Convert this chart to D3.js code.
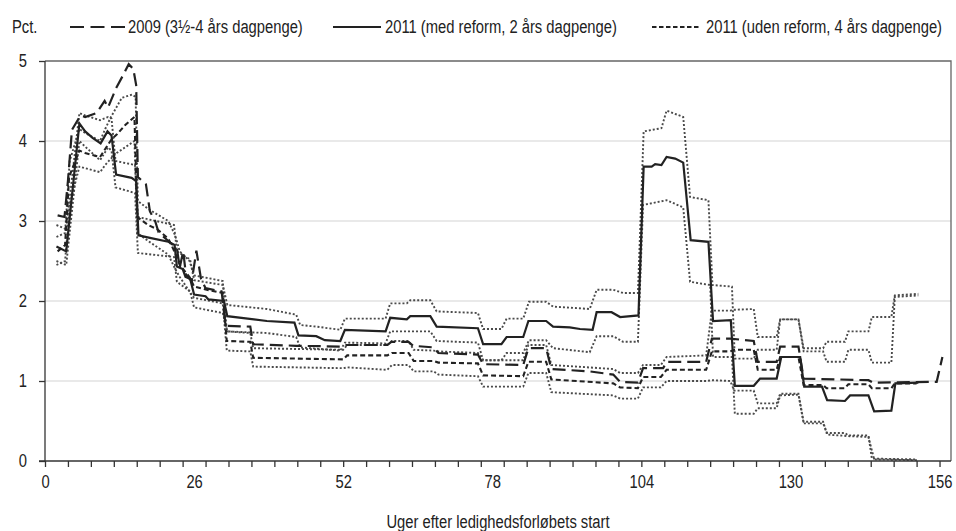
<!DOCTYPE html>
<html>
<head>
<meta charset="utf-8">
<script src="https://cdn.jsdelivr.net/npm/d3@7.9.0/dist/d3.min.js"></script>
<style>
  body { margin: 0; background: #fff; }
  svg { display: block; font-family: "Liberation Sans", Arial, sans-serif; }
</style>
</head>
<body>
<svg id="chart" width="956" height="531"></svg>
<script>
// axis labels
const xLabels = [0, 26, 52, 78, 104, 130, 156];
const yLabels = [0, 1, 2, 3, 4, 5];
const legendLabels = ['2009 (3½-4 års dagpenge)', '2011 (med reform, 2 års dagpenge)', '2011 (uden reform, 4 års dagpenge)'];

// [week, pct]
const y2009 = [[2.2,3.07],[3.4,3.05],[4.0,3.5],[4.7,4.14],[6.2,4.32],[7.0,4.3],[9.0,4.35],[10.4,4.5],[11.0,4.42],[12.4,4.66],[13.6,4.82],[14.6,4.96],[15.4,4.9],[15.9,4.7],[16.2,3.55],[17.6,3.46],[18.3,3.12],[19.2,3.0],[19.8,2.86],[21.5,2.75],[23.0,2.66],[23.5,2.42],[24.1,2.62],[24.6,2.32],[25.6,2.25],[26.4,2.63],[27.2,2.28],[28.0,2.16],[30.8,2.12],[31.5,1.69],[35.8,1.68],[36.3,1.46],[43.8,1.44],[52.0,1.43],[52.6,1.45],[59.7,1.45],[60.4,1.49],[63.4,1.49],[64.2,1.44],[67.8,1.42],[68.6,1.35],[75.5,1.33],[76.4,1.21],[83.4,1.2],[84.3,1.41],[87.4,1.41],[88.3,1.15],[95.0,1.12],[99.1,1.08],[100.3,0.99],[103.4,0.98],[104.3,1.16],[107.8,1.16],[108.4,1.24],[115.3,1.24],[116.3,1.53],[119.5,1.53],[123.6,1.5],[124.3,1.24],[127.6,1.24],[128.2,1.43],[131.4,1.43],[132.3,1.03],[143.6,1.01],[144.4,0.98],[155.5,0.99],[156.5,1.3]];

const medReform = [[2.0,2.68],[3.7,2.62],[6.0,4.22],[7.0,4.12],[8.3,4.04],[9.7,3.97],[10.9,4.12],[11.6,4.07],[12.4,3.58],[15.1,3.54],[15.9,3.5],[16.3,2.82],[18.3,2.79],[21.5,2.74],[22.6,2.7],[23.0,2.43],[24.0,2.4],[24.5,2.3],[25.3,2.28],[26.0,2.08],[28.0,2.06],[28.5,2.02],[31.2,2.0],[31.8,1.81],[38.7,1.75],[43.5,1.73],[44.2,1.57],[47.3,1.56],[48.8,1.51],[51.5,1.5],[52.3,1.64],[59.4,1.62],[60.2,1.79],[63.1,1.77],[63.7,1.81],[67.2,1.81],[68.3,1.68],[75.5,1.66],[76.4,1.46],[79.6,1.46],[80.5,1.55],[83.4,1.55],[84.3,1.75],[87.4,1.75],[88.6,1.68],[91.5,1.67],[93.3,1.65],[95.5,1.64],[96.2,1.86],[98.8,1.86],[100.3,1.8],[103.5,1.82],[104.4,3.68],[105.8,3.68],[106.4,3.71],[107.5,3.7],[108.4,3.8],[109.9,3.78],[111.3,3.73],[112.6,2.76],[115.7,2.74],[116.5,1.75],[119.6,1.76],[120.3,0.94],[123.6,0.94],[124.7,1.03],[127.6,1.03],[128.4,1.3],[131.7,1.3],[132.4,0.93],[135.5,0.93],[136.4,0.76],[139.5,0.75],[140.4,0.82],[143.6,0.82],[144.6,0.62],[147.6,0.63],[148.3,0.97],[152.3,0.98]];

const udenReform = [[2.2,2.62],[3.5,2.7],[4.2,3.55],[5.0,3.7],[6.0,3.88],[7.0,3.85],[9.6,3.8],[10.5,3.9],[11.6,4.02],[12.5,4.08],[14.0,4.2],[15.6,4.3],[16.1,3.05],[18.0,2.95],[19.5,2.9],[21.5,2.78],[22.7,2.6],[23.5,2.45],[25.2,2.3],[26.0,2.18],[28.2,2.14],[31.0,2.1],[31.7,1.5],[35.8,1.49],[36.3,1.29],[52.0,1.27],[52.7,1.32],[59.7,1.32],[60.5,1.35],[63.4,1.35],[64.3,1.25],[67.8,1.25],[68.6,1.23],[75.5,1.22],[76.4,1.07],[83.4,1.06],[84.3,1.24],[87.4,1.24],[88.3,1.02],[99.1,0.97],[100.3,0.92],[103.4,0.91],[104.3,1.05],[107.4,1.05],[108.4,1.14],[115.3,1.14],[116.3,1.37],[119.5,1.37],[120.2,1.39],[123.6,1.39],[124.3,1.14],[127.6,1.14],[128.2,1.3],[131.4,1.3],[132.3,0.95],[135.7,0.95],[136.3,0.91],[139.5,0.91],[140.1,0.96],[143.6,0.96],[144.2,0.91],[147.6,0.91],[148.2,0.97],[152.0,0.97]];

// confidence bands (dotted)
const medHigh = [[2.0,2.95],[3.7,2.9],[6.0,4.35],[7.0,4.32],[9.6,4.26],[11.0,4.3],[11.6,4.28],[12.3,3.75],[15.7,3.7],[16.2,3.05],[22.5,2.95],[23.0,2.62],[25.3,2.52],[26.0,2.26],[31.0,2.2],[31.8,1.95],[38.7,1.9],[43.8,1.83],[44.5,1.7],[47.3,1.68],[51.5,1.64],[52.3,1.78],[59.4,1.78],[60.2,1.97],[63.1,1.97],[63.7,2.01],[67.2,2.01],[68.3,1.87],[75.5,1.85],[76.4,1.65],[79.6,1.65],[80.5,1.78],[83.4,1.78],[84.4,1.99],[87.4,1.99],[88.6,1.93],[95.0,1.9],[96.2,2.14],[99.1,2.14],[100.8,2.1],[103.4,2.1],[104.4,4.12],[107.5,4.16],[108.4,4.38],[111.3,4.3],[112.5,3.3],[115.7,3.26],[116.4,2.2],[119.8,2.18],[120.3,1.28],[123.6,1.28],[124.3,1.39],[127.6,1.39],[128.2,1.77],[131.4,1.77],[132.3,1.37],[135.7,1.37],[136.3,1.24],[139.5,1.24],[140.1,1.39],[143.6,1.39],[144.2,1.23],[147.6,1.23],[148.2,2.05],[152.3,2.07]];

const medLow = [[2.0,2.5],[3.7,2.45],[6.0,4.0],[7.0,3.93],[9.6,3.76],[11.0,3.92],[11.6,3.88],[12.3,3.42],[15.7,3.35],[16.2,2.6],[22.5,2.55],[23.0,2.24],[25.3,2.12],[26.0,1.92],[31.0,1.85],[31.8,1.62],[38.7,1.6],[43.8,1.55],[44.5,1.42],[51.5,1.38],[52.3,1.48],[59.4,1.47],[60.2,1.62],[67.2,1.62],[68.3,1.5],[75.5,1.48],[76.4,1.26],[79.6,1.26],[80.5,1.35],[83.4,1.35],[84.4,1.51],[87.4,1.51],[88.6,1.41],[95.0,1.36],[96.2,1.56],[99.1,1.56],[100.8,1.49],[103.4,1.49],[104.3,3.2],[108.4,3.26],[111.3,3.17],[112.5,2.24],[116.0,2.2],[116.5,1.3],[119.8,1.3],[120.3,0.59],[123.6,0.59],[124.3,0.66],[127.6,0.66],[128.2,0.82],[131.4,0.83],[132.3,0.47],[135.7,0.47],[136.5,0.33],[140.4,0.31],[143.6,0.3],[144.6,0.02],[152.3,0.01]];

const udenHigh = [[2.0,2.8],[3.5,2.85],[4.3,3.75],[6.0,4.15],[7.0,4.1],[9.6,4.0],[10.5,4.15],[11.5,4.3],[13.4,4.54],[15.2,4.58],[15.8,4.55],[16.2,3.25],[18.0,3.15],[21.5,3.0],[22.7,2.82],[23.5,2.62],[25.2,2.5],[26.0,2.32],[31.0,2.25],[31.7,1.62],[35.8,1.6],[36.3,1.41],[52.0,1.39],[52.7,1.45],[59.7,1.45],[60.5,1.5],[63.4,1.5],[64.3,1.39],[67.8,1.38],[68.6,1.37],[75.5,1.35],[76.4,1.26],[83.4,1.26],[84.3,1.45],[87.4,1.45],[88.3,1.2],[99.1,1.15],[100.3,1.1],[103.4,1.1],[104.3,1.2],[107.4,1.2],[108.4,1.3],[115.3,1.32],[116.3,1.88],[119.5,1.88],[120.2,1.89],[123.6,1.9],[124.3,1.55],[127.6,1.55],[128.2,1.77],[131.4,1.77],[132.3,1.41],[135.7,1.41],[136.3,1.49],[139.5,1.49],[140.1,1.62],[143.6,1.62],[144.2,1.8],[147.6,1.8],[148.2,2.07],[152.3,2.09]];

const udenLow = [[2.0,2.45],[3.5,2.5],[4.3,3.2],[6.0,3.68],[7.0,3.66],[9.6,3.61],[10.5,3.7],[11.5,3.78],[12.5,3.85],[15.6,4.0],[16.1,2.85],[18.0,2.75],[21.5,2.58],[22.7,2.4],[23.5,2.3],[25.2,2.12],[26.0,2.04],[31.0,1.97],[31.7,1.38],[35.8,1.37],[36.3,1.18],[52.0,1.16],[52.7,1.17],[59.7,1.14],[60.5,1.2],[63.4,1.2],[64.3,1.12],[67.8,1.12],[68.6,1.08],[75.5,1.06],[76.4,0.93],[83.4,0.93],[84.3,1.1],[87.4,1.1],[88.3,0.86],[99.1,0.82],[100.3,0.78],[103.4,0.78],[104.3,0.92],[107.4,0.92],[108.4,1.0],[115.3,1.0],[116.3,1.01],[119.5,1.0],[120.2,0.88],[123.6,0.88],[124.3,0.72],[127.6,0.72],[128.2,0.84],[131.4,0.84],[132.3,0.49],[135.7,0.49],[136.3,0.35],[139.5,0.35],[140.1,0.32],[143.6,0.32],[144.2,0.03],[152.0,0.02]];

const svg = d3.select('#chart');
const margin = { left: 45, right: 5, top: 61, bottom: 70 };
const width = 956, height = 531;

const x = d3.scaleLinear().domain([0, 158]).range([margin.left, width - margin.right]);
const y = d3.scaleLinear().domain([0, 5]).range([height - margin.bottom, margin.top]);

// the reference uses a narrow face (Arial Narrow); squeeze Liberation Sans to match
function narrow(sel) {
  sel.each(function() {
    const w = this.getComputedTextLength();
    d3.select(this).attr('textLength', w * 0.82).attr('lengthAdjust', 'spacingAndGlyphs');
  });
}

// gridlines
svg.append('g')
  .selectAll('line')
  .data([1, 2, 3, 4])
  .join('line')
  .attr('x1', x(0)).attr('x2', x(158))
  .attr('y1', d => y(d)).attr('y2', d => y(d))
  .attr('stroke', '#d4d4d4')
  .attr('stroke-width', 1.2);

// frame top + right
svg.append('path')
  .attr('d', `M${x(0)},${y(5)}H${x(158)}V${y(0)}`)
  .attr('fill', 'none')
  .attr('stroke', '#666')
  .attr('stroke-width', 1.3);

// lines
const line = d3.line().x(d => x(d[0])).y(d => y(d[1]));

const bands = [medHigh, medLow, udenHigh, udenLow];
svg.append('g')
  .selectAll('path')
  .data(bands)
  .join('path')
  .attr('d', line)
  .attr('fill', 'none')
  .attr('stroke', '#4a4a4a')
  .attr('stroke-width', 1.9)
  .attr('stroke-dasharray', '2,2');

const series = [
  { data: y2009, dash: '13,6', width: 2.2 },
  { data: udenReform, dash: '5,3', width: 2.1 },
  { data: medReform, dash: null, width: 2.2 }
];

svg.append('g')
  .selectAll('path')
  .data(series)
  .join('path')
  .attr('d', d => line(d.data))
  .attr('fill', 'none')
  .attr('stroke', '#222')
  .attr('stroke-width', d => d.width)
  .attr('stroke-dasharray', d => d.dash);

// x axis: minor ticks every 4 weeks, labels every 26
const xAxis = svg.append('g')
  .attr('transform', `translate(0,${y(0)})`)
  .call(d3.axisBottom(x).tickValues(d3.range(0, 157, 4)).tickSize(6).tickFormat(''));
xAxis.select('.domain').attr('d', `M${x(0) - 6},0H${x(158)}`);

svg.append('g')
  .attr('transform', `translate(0,${y(0)})`)
  .call(d3.axisBottom(x).tickValues(xLabels).tickSize(0).tickPadding(14).tickFormat(d3.format('d')))
  .call(g => g.select('.domain').remove());

const yAxis = svg.append('g')
  .attr('transform', `translate(${x(0)},0)`)
  .call(d3.axisLeft(y).tickValues(yLabels).tickSize(6).tickPadding(12).tickFormat(d3.format('d')));
yAxis.select('.domain').attr('d', `M0,${y(5)}V${y(0)}`);

svg.selectAll('.domain, .tick line').attr('stroke', '#333').attr('stroke-width', 1.3);
svg.selectAll('.tick text')
  .attr('font-size', 18)
  .attr('fill', '#222')
  .attr('font-family', null)
  .call(narrow);

// axis title
svg.append('text')
  .attr('x', 498).attr('y', 528)
  .attr('text-anchor', 'middle')
  .attr('font-size', 18)
  .attr('fill', '#222')
  .text('Uger efter ledighedsforløbets start')
  .call(narrow);

// legend
svg.append('text')
  .attr('x', 12).attr('y', 33)
  .attr('font-size', 18)
  .attr('fill', '#222')
  .text('Pct.')
  .call(narrow);

const legendItems = [
  { x1: 70, x2: 125, tx: 128, dash: '14,6.5' },
  { x1: 333, x2: 381, tx: 385, dash: null },
  { x1: 652, x2: 701, tx: 706, dash: '4.5,2.5' }
];
const legend = svg.append('g').selectAll('g').data(legendItems).join('g');
legend.append('line')
  .attr('x1', d => d.x1).attr('x2', d => d.x2)
  .attr('y1', 27).attr('y2', 27)
  .attr('stroke', '#222').attr('stroke-width', 2.2)
  .attr('stroke-dasharray', d => d.dash);
legend.append('text')
  .attr('x', d => d.tx).attr('y', 33)
  .attr('font-size', 18)
  .attr('fill', '#222')
  .text((d, i) => legendLabels[i])
  .call(narrow);
</script>
</body>
</html>
